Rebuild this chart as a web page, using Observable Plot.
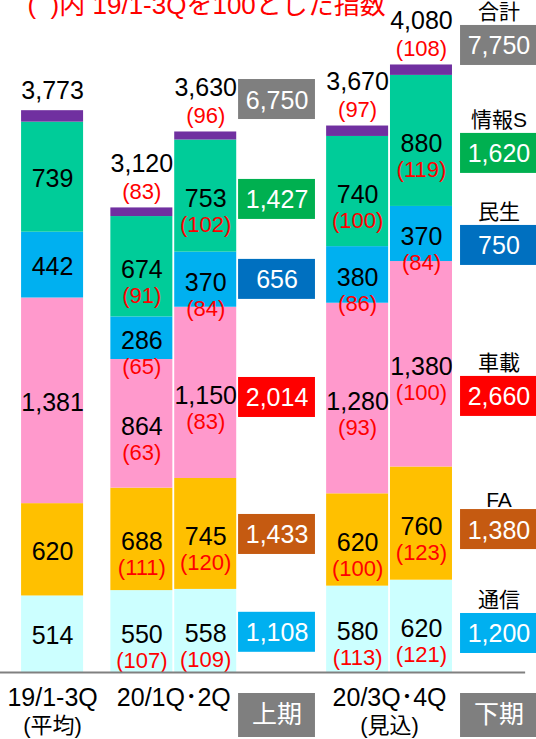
<!DOCTYPE html>
<html><head><meta charset="utf-8">
<script src="https://cdn.jsdelivr.net/npm/d3@7"></script>
<script src="https://cdn.jsdelivr.net/npm/@observablehq/plot@0.6"></script>
<style>html,body{margin:0;padding:0;background:#fff;}</style>
</head><body><div id="chart"></div>
<script>
// ---------- data ----------
const categories = ["19/1-3Q", "20/1Q", "20/2Q", "20/3Q", "20/4Q"];
const segments = ["通信", "FA", "車載", "民生", "情報S", "その他"];
const tsushin = [514, 550, 558, 580, 620];
const fa      = [620, 688, 745, 620, 760];
const shasai  = [1381, 864, 1150, 1280, 1380];
const minsei  = [442, 286, 370, 380, 370];
const joho    = [739, 674, 753, 740, 880];
const other   = [77, 58, 54, 70, 70];
const totals  = [3773, 3120, 3630, 3670, 4080];
const idxTsushin = [null, 107, 109, 113, 121];
const idxFA      = [null, 111, 120, 100, 123];
const idxShasai  = [null, 63, 83, 93, 100];
const idxMinsei  = [null, 65, 84, 86, 84];
const idxJoho    = [null, 91, 102, 100, 119];
const idxTotal   = [null, 83, 96, 97, 108];
const halfLabels = ["通信", "FA", "車載", "民生", "情報S", "合計"];
const half1 = [1108, 1433, 2014, 656, 1427, 6750];
const half2 = [1200, 1380, 2660, 750, 1620, 7750];
const periodLabels = ["上期", "下期"];
const groupLine1 = ["19/1-3Q", "20/1Q･2Q", "20/3Q･4Q"];
const groupLine2 = ["(平均)", "", "(見込)"];
const titleText = "(\u00A0\u00A0)内 19/1-3Qを100とした指数";

// ---------- styles / layout ----------
const segColors = ["#CCFFFF", "#FFC000", "#FF99CC", "#00B0F0", "#00CC99", "#7030A0"];
const boxColors = ["#00B0F0", "#C55A11", "#FF0000", "#0070C0", "#00B050", "#7F7F7F"];
const FONT = "'Liberation Sans', Arial, 'Noto Sans CJK JP', sans-serif";
const W = 536, H = 739, baselinePx = 672;
const yMax = 4513;
const k = baselinePx / yMax;          // px per unit
const pu = p => p / k;                // pixel length -> y units
// column layout, in bar-width units
const cols = [
  {key: "19/1-3Q", gap: 0.34, w: 1},
  {key: "20/1Q",   gap: 0.44, w: 1},
  {key: "20/2Q",   gap: 0.03, w: 1},
  {key: "上期",    gap: 0.03, w: 1.24},
  {key: "20/3Q",   gap: 0.18, w: 1},
  {key: "20/4Q",   gap: 0.03, w: 1},
  {key: "下期",    gap: 0.13, w: 1.24}
];
const pos = {};
let acc = 0;
for (const c of cols) { acc += c.gap; pos[c.key] = {x1: acc, x2: acc + c.w, xc: acc + c.w / 2}; acc += c.w; }
const xMax = W / 62;
// legend-box anchor levels (y units) for the two half-year columns
const sideAnchor = {"上期": [270, 927, 1847, 2640, 3177, 3848], "下期": [262, 960, 1854, 2868, 3486, 4211]};

const fmt = d3.format(",");
const seriesVals = [tsushin, fa, shasai, minsei, joho, other];
const seriesIdx = [idxTsushin, idxFA, idxShasai, idxMinsei, idxJoho, null];

const stacked = [];
categories.forEach((c, i) => {
  let cum = 0;
  segments.forEach((s, j) => {
    const v = seriesVals[j][i];
    stacked.push({cat: c, seg: s, value: v, y1: cum, y2: cum + v, mid: cum + v / 2,
      idx: seriesIdx[j] ? seriesIdx[j][i] : null, ...pos[c]});
    cum += v;
  });
});
const labeled = stacked.filter(d => d.seg !== "その他");
const totalData = categories.map((c, i) => ({cat: c, total: totals[i], idx: idxTotal[i], ...pos[c]}));

const side = [];
periodLabels.forEach((p, pi) => {
  const vals = pi === 0 ? half1 : half2;
  halfLabels.forEach((l, j) => side.push({period: p, label: l, value: vals[j], color: boxColors[j], a: sideAnchor[p][j], ...pos[p]}));
});
const side2 = side.filter(d => d.period === "下期");

const groupData = [
  {l1: groupLine1[0], l2: groupLine2[0], xc: pos["19/1-3Q"].xc},
  {l1: groupLine1[1], l2: groupLine2[1], xc: (pos["20/1Q"].x1 + pos["20/2Q"].x2) / 2},
  {l1: groupLine1[2], l2: groupLine2[2], xc: (pos["20/3Q"].x1 + pos["20/4Q"].x2) / 2}
];
const periodData = periodLabels.map(p => ({label: p, ...pos[p]}));

const chart = Plot.plot({
  width: W, height: H,
  marginLeft: 0, marginRight: 0, marginTop: 0, marginBottom: H - baselinePx,
  x: {domain: [0, xMax], axis: null},
  y: {domain: [0, yMax], axis: null},
  color: {domain: segments, range: segColors},
  style: {fontFamily: FONT, background: "white", overflow: "visible"},
  marks: [
    Plot.rect(stacked, {x1: "x1", x2: "x2", y1: "y1", y2: "y2", fill: "seg"}),
    // segment values
    Plot.text(labeled.filter(d => d.idx == null), {x: "xc", y: "mid", text: d => fmt(d.value), fontSize: 25, dy: 2, fill: "black"}),
    Plot.text(labeled.filter(d => d.idx != null), {x: "xc", y: "mid", text: d => fmt(d.value), fontSize: 25, dy: 3, fill: "black"}),
    Plot.text(labeled.filter(d => d.idx != null), {x: "xc", y: "mid", text: d => `(${d.idx})`, fontSize: 22, dy: 29, fill: "#FF0000"}),
    // totals
    Plot.text(totalData.filter(d => d.idx == null), {x: "xc", y: "total", text: d => fmt(d.total), fontSize: 25, dy: -20, fill: "black"}),
    Plot.text(totalData.filter(d => d.idx != null), {x: "xc", y: "total", text: d => fmt(d.total), fontSize: 25, dy: -44, fill: "black"}),
    Plot.text(totalData.filter(d => d.idx != null), {x: "xc", y: "total", text: d => `(${d.idx})`, fontSize: 22, dy: -16, fill: "#FF0000"}),
    // half-year boxes
    Plot.rect(side, {x1: "x1", x2: "x2", y1: d => d.a - pu(20), y2: d => d.a + pu(20), fill: "color"}),
    Plot.text(side, {x: "xc", y: "a", text: d => fmt(d.value), fill: "white", fontSize: 25, dy: 1}),
    Plot.text(side2.filter(d => d.label !== "FA"), {x: "xc", y: "a", text: "label", fill: "black", fontSize: 21, dy: -33}),
    Plot.text(side2.filter(d => d.label === "FA"), {x: "xc", y: "a", text: "label", fill: "black", fontSize: 21, dy: -29}),
    // baseline
    Plot.ruleY([0], {x1: 0, x2: pos["下期"].x1 + 1.05, stroke: "#808080", strokeWidth: 2}),
    // category labels
    Plot.text(groupData, {x: "xc", y: 0, text: "l1", fontSize: 25, dy: 25, fill: "black"}),
    Plot.text(groupData, {x: "xc", y: 0, text: "l2", fontSize: 22, dy: 53, fill: "black"}),
    Plot.rect(periodData, {x1: "x1", x2: "x2", y1: -pu(21), y2: -pu(65), fill: "#7F7F7F"}),
    Plot.text(periodData, {x: "xc", y: 0, text: "label", fontSize: 25, dy: 42, fill: "white"}),
    // title (cut at top as in the source)
    Plot.text([titleText], {frameAnchor: "top-left", text: d => d, textAnchor: "start", lineAnchor: "middle", fontSize: 26, dx: 27, dy: 5, fill: "#FF0000"})
  ]
});
document.getElementById("chart").appendChild(chart);
</script>
</body></html>
